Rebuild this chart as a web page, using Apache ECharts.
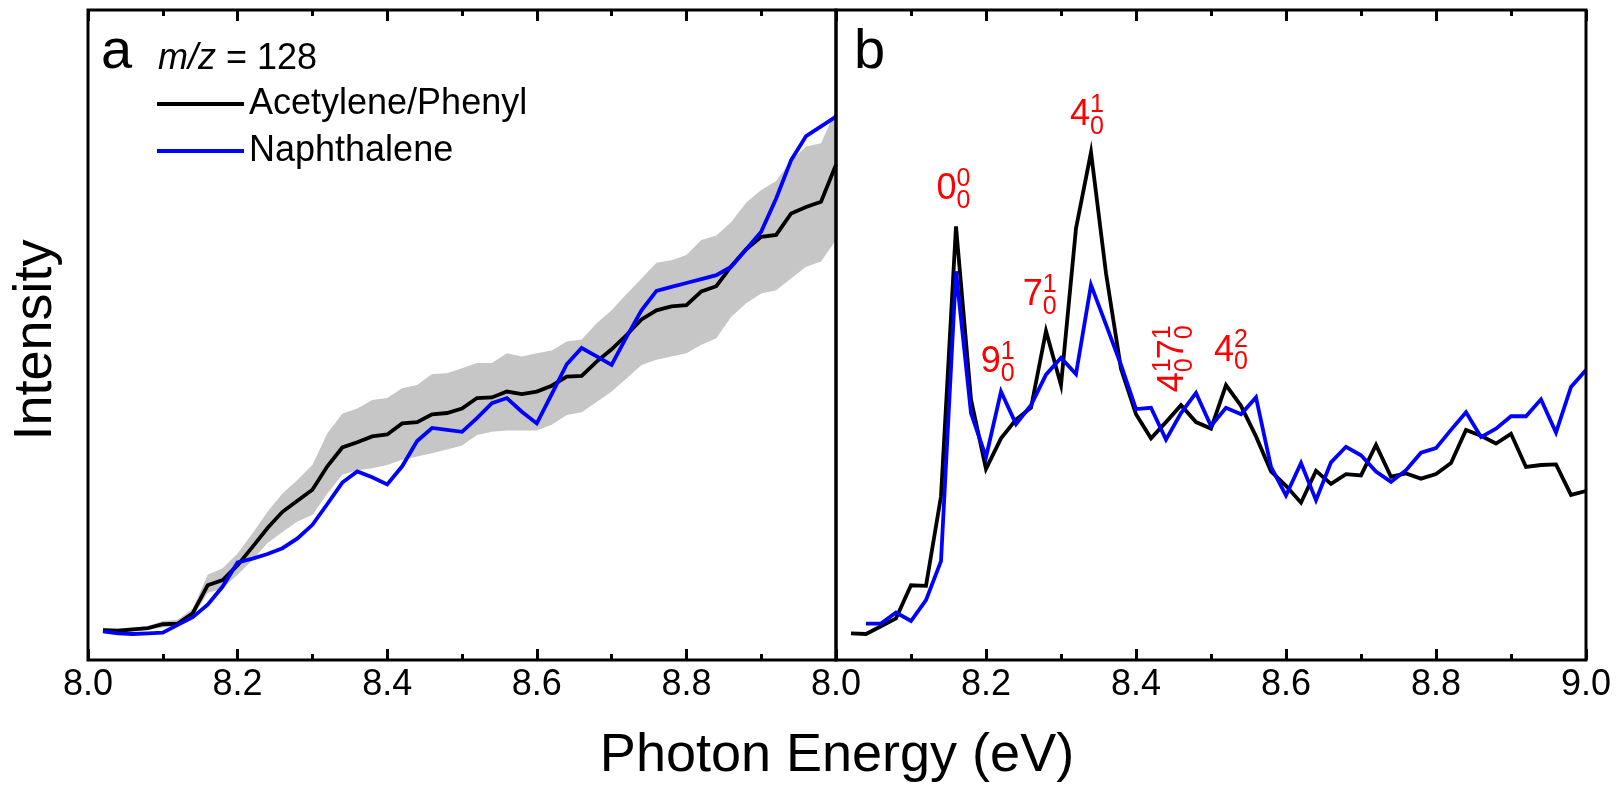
<!DOCTYPE html>
<html>
<head>
<meta charset="utf-8">
<script src="https://cdn.jsdelivr.net/npm/echarts@6/dist/echarts.min.js"></script>
<style>
  html, body { margin: 0; padding: 0; background: #fff; }
  #main { width: 1617px; height: 785px; }
</style>
</head>
<body>
<div id="main"></div>
<script>
const FONT = '"Liberation Sans", Arial, sans-serif';

// photon energy grid (eV), same for both panels
const energy = [
  8.02, 8.04, 8.06, 8.08, 8.10, 8.12, 8.14, 8.16, 8.18, 8.20,
  8.22, 8.24, 8.26, 8.28, 8.30, 8.32, 8.34, 8.36, 8.38, 8.40,
  8.42, 8.44, 8.46, 8.48, 8.50, 8.52, 8.54, 8.56, 8.58, 8.60,
  8.62, 8.64, 8.66, 8.68, 8.70, 8.72, 8.74, 8.76, 8.78, 8.80,
  8.82, 8.84, 8.86, 8.88, 8.90, 8.92, 8.94, 8.96, 8.98, 9.00
];

// panel a : m/z = 128 photoionization curves
const acetyleneA = [
  4.6, 4.5, 4.7, 4.9, 5.5, 5.6, 7.2, 11.5, 12.3, 14.6,
  17.4, 20.3, 22.8, 24.5, 26.2, 29.8, 32.7, 33.5, 34.4, 34.7,
  36.4, 36.6, 37.8, 38.0, 38.7, 40.3, 40.4, 41.3, 40.9, 41.3,
  42.2, 43.6, 43.7, 45.9, 47.8, 50.0, 52.4, 53.8, 54.4, 54.6,
  56.7, 57.5, 60.6, 63.2, 65.1, 65.4, 68.7, 69.7, 70.5, 76.2
];
const naphthaleneA = [
  4.4, 4.1, 4.0, 4.1, 4.2, 5.4, 6.6, 8.5, 11.3, 15.0,
  15.6, 16.3, 17.2, 18.7, 20.8, 24.0, 27.3, 29.0, 28.1, 27.0,
  29.8, 33.7, 35.7, 35.4, 35.1, 37.2, 39.5, 40.3, 38.2, 36.4,
  40.9, 45.5, 48.0, 46.7, 45.4, 49.7, 53.8, 56.8, 57.4, 58.0,
  58.6, 59.2, 60.5, 63.2, 65.9, 71.0, 76.9, 80.6, 82.1, 83.6
];
// grey error band around the acetylene/phenyl curve
const bandLowA = [
  4.3, 4.2, 4.4, 4.6, 5.0, 5.2, 6.6, 10.3, 11.0, 13.1,
  15.4, 18.0, 19.7, 21.3, 22.3, 25.6, 28.5, 29.2, 29.5, 30.0,
  30.8, 31.3, 31.8, 32.4, 33.0, 34.6, 35.1, 35.3, 35.3, 35.3,
  36.2, 37.7, 38.1, 39.7, 41.3, 43.3, 45.4, 46.2, 46.7, 47.2,
  48.5, 49.5, 52.8, 54.9, 56.4, 56.9, 58.7, 60.5, 61.3, 64.6
];
const bandHighA = [
  4.9, 4.8, 5.0, 5.2, 6.0, 6.2, 7.9, 13.1, 14.1, 16.4,
  19.5, 22.8, 25.6, 27.7, 30.0, 34.9, 37.9, 38.7, 40.0, 40.3,
  41.8, 42.3, 44.0, 44.1, 44.9, 45.7, 45.7, 47.2, 46.7, 47.2,
  47.6, 49.0, 49.3, 51.8, 53.8, 56.3, 58.7, 61.1, 61.5, 62.3,
  64.6, 65.3, 67.4, 70.4, 72.3, 73.7, 76.8, 79.0, 79.5, 84.6
];

// panel b : resolved vibronic structure
const acetyleneB = [
  4.1, 4.0, 5.2, 6.4, 11.5, 11.4, 25.2, 66.7, 40.1, 29.4,
  34.1, 37.0, 38.8, 50.6, 42.3, 66.4, 78.1, 59.5, 44.8, 37.8,
  34.1, 36.6, 39.2, 36.6, 35.6, 42.3, 39.1, 34.4, 29.0, 26.8,
  24.2, 29.1, 27.1, 28.6, 28.4, 33.1, 28.2, 28.7, 27.9, 28.6,
  30.3, 35.4, 34.5, 33.3, 34.8, 29.7, 30.0, 30.1, 25.4, 26.0
];
const naphthaleneB = [
  null, 5.6, 5.6, 7.3, 6.0, 9.2, 15.2, 59.8, 38.0, 31.2,
  41.3, 36.3, 39.2, 43.9, 46.5, 44.0, 57.7, 51.6, 45.4, 38.6,
  38.8, 33.9, 38.0, 41.1, 36.0, 38.8, 37.8, 40.4, 29.7, 25.3,
  30.3, 24.6, 30.4, 32.8, 31.5, 29.0, 27.4, 29.2, 31.9, 32.6,
  35.4, 38.1, 34.3, 35.6, 37.5, 37.5, 40.1, 35.0, 42.0, 44.6
];

// vibronic band assignments (main digit, superscript, subscript, anchor energy, anchor level)
const peakMain = ['0', '9', '7', '4', '4'];
const peakSup = ['0', '1', '1', '1', '2'];
const peakSub = ['0', '0', '0', '0', '0'];
const peakE = [8.134, 8.193, 8.249, 8.312, 8.504];
const peakV = [72.5, 45.9, 56.1, 83.8, 47.6];
// the vertical combination label 4(1,0) 7(1,0)
const comboMain = ['4', '7'];
const comboSup = ['1', '1'];
const comboSub = ['0', '0'];
const comboAnchor = [8.449, 41.2];

const pairs = (xs, ys) => xs.map((x, i) => [x, ys[i]]);

function xAxisOf(gridIndex, position, showLabels, showMax) {
  return {
    gridIndex: gridIndex,
    type: 'value',
    position: position,
    min: 8,
    max: 9,
    interval: 0.2,
    axisLine: { show: false },
    axisTick: { show: true, inside: true, length: 11, lineStyle: { color: '#000', width: 3 } },
    minorTick: { show: true, splitNumber: 2, length: 6, lineStyle: { color: '#000', width: 3 } },
    splitLine: { show: false },
    minorSplitLine: { show: false },
    axisLabel: {
      show: showLabels,
      margin: 7,
      fontSize: 36,
      fontFamily: FONT,
      color: '#000',
      showMinLabel: true,
      showMaxLabel: showMax,
      formatter: (v) => v.toFixed(1)
    }
  };
}

function gridOf(left, width) {
  return {
    left: left, top: 10, width: width, height: 650,
    show: true, borderColor: '#000', borderWidth: 3,
    backgroundColor: 'rgba(0,0,0,0)',
    containLabel: false, outerBoundsMode: 'none', z: 10
  };
}

function lineOf(name, color, xIdx, yIdx, data) {
  return {
    name: name,
    type: 'line',
    xAxisIndex: xIdx,
    yAxisIndex: yIdx,
    data: data,
    symbol: 'none',
    color: color,
    itemStyle: { color: color },
    lineStyle: { color: color, width: 3.8, join: 'miter' },
    z: 3
  };
}

// grey band drawn as one polygon: upper edge forward, lower edge back
function renderBand(params, api) {
  if (params.dataIndex !== 0) return null;
  const pts = [];
  for (let i = 0; i < energy.length; i++) pts.push(api.coord([energy[i], bandHighA[i]]));
  for (let i = energy.length - 1; i >= 0; i--) pts.push(api.coord([energy[i], bandLowA[i]]));
  return { type: 'polygon', shape: { points: pts }, style: { fill: '#c6c6c6' } };
}

const option = {
  animation: false,
  backgroundColor: '#fff',
  grid: [gridOf(88, 748), gridOf(836, 750)],
  xAxis: [
    xAxisOf(0, 'bottom', true, false),
    xAxisOf(0, 'top', false, false),
    xAxisOf(1, 'bottom', true, true),
    xAxisOf(1, 'top', false, false)
  ],
  yAxis: [
    { gridIndex: 0, type: 'value', min: 0, max: 100, show: false },
    { gridIndex: 1, type: 'value', min: 0, max: 100, show: false }
  ],
  legend: {
    data: ['Acetylene/Phenyl', 'Naphthalene'],
    orient: 'vertical',
    left: 157,
    top: 86,
    padding: 0,
    itemWidth: 87,
    itemHeight: 4,
    itemGap: 11,
    icon: 'rect',
    selectedMode: false,
    textStyle: { fontSize: 36, fontFamily: FONT, color: '#000' }
  },
  series: [
    {
      type: 'custom', xAxisIndex: 0, yAxisIndex: 0, silent: true, z: 1,
      data: energy.map((e, i) => [e, bandLowA[i], bandHighA[i]]),
      encode: { x: 0, y: [1, 2] },
      renderItem: renderBand
    },
    lineOf('Acetylene/Phenyl', '#000000', 0, 0, pairs(energy, acetyleneA)),
    lineOf('Naphthalene', '#0000ff', 0, 0, pairs(energy, naphthaleneA)),
    lineOf('Acetylene/Phenyl', '#000000', 2, 1, pairs(energy, acetyleneB)),
    lineOf('Naphthalene', '#0000ff', 2, 1, pairs(energy, naphthaleneB))
  ]
};

const chart = echarts.init(document.getElementById('main'));
chart.setOption(option);

function txt(text, x, y, size, color, extra) {
  return Object.assign({
    type: 'text', x: x, y: y, z: 100,
    style: {
      text: text, fontSize: size, fontFamily: FONT, fill: color,
      align: 'left', verticalAlign: 'middle'
    }
  }, extra || {});
}

// digit with stacked superscript / subscript, laid out in local coords
function vibLabel(main, sup, sub, offset) {
  const o = offset || 0;
  return [
    txt(main, o, 0, 36, '#ff0000'),
    txt(sup, o + 20, -10, 25, '#ff0000'),
    txt(sub, o + 20, 12, 25, '#ff0000')
  ];
}

const graphics = [];
peakMain.forEach((m, i) => {
  const p = chart.convertToPixel({ xAxisIndex: 2, yAxisIndex: 1 }, [peakE[i], peakV[i]]);
  graphics.push({
    type: 'group', x: p[0], y: p[1],
    children: vibLabel(m, peakSup[i], peakSub[i])
  });
});
const cp = chart.convertToPixel({ xAxisIndex: 2, yAxisIndex: 1 }, comboAnchor);
graphics.push({
  type: 'group', x: cp[0], y: cp[1], rotation: Math.PI / 2,
  children: vibLabel(comboMain[0], comboSup[0], comboSub[0], 0)
    .concat(vibLabel(comboMain[1], comboSup[1], comboSub[1], 33))
});

// panel letters, mass label and axis titles
graphics.push(txt('a', 101, 53, 56, '#000'));
graphics.push(txt('b', 854, 53, 56, '#000'));
graphics.push({
  type: 'text', x: 158, y: 59, z: 100,
  style: {
    text: '{i|m/z} = 128', fontSize: 36, fontFamily: FONT, fill: '#000',
    align: 'left', verticalAlign: 'middle',
    rich: { i: { fontStyle: 'italic', fontSize: 36, fontFamily: FONT, fill: '#000' } }
  }
});
graphics.push({
  type: 'text', x: 837, y: 756, z: 100,
  style: {
    text: 'Photon Energy (eV)', fontSize: 54, fontFamily: FONT, fill: '#000',
    align: 'center', verticalAlign: 'middle'
  }
});
graphics.push({
  type: 'text', x: 36, y: 340, z: 100, rotation: Math.PI / 2,
  style: {
    text: 'Intensity', fontSize: 54, fontFamily: FONT, fill: '#000',
    align: 'center', verticalAlign: 'middle'
  }
});

chart.setOption({ graphic: graphics });
</script>
</body>
</html>
